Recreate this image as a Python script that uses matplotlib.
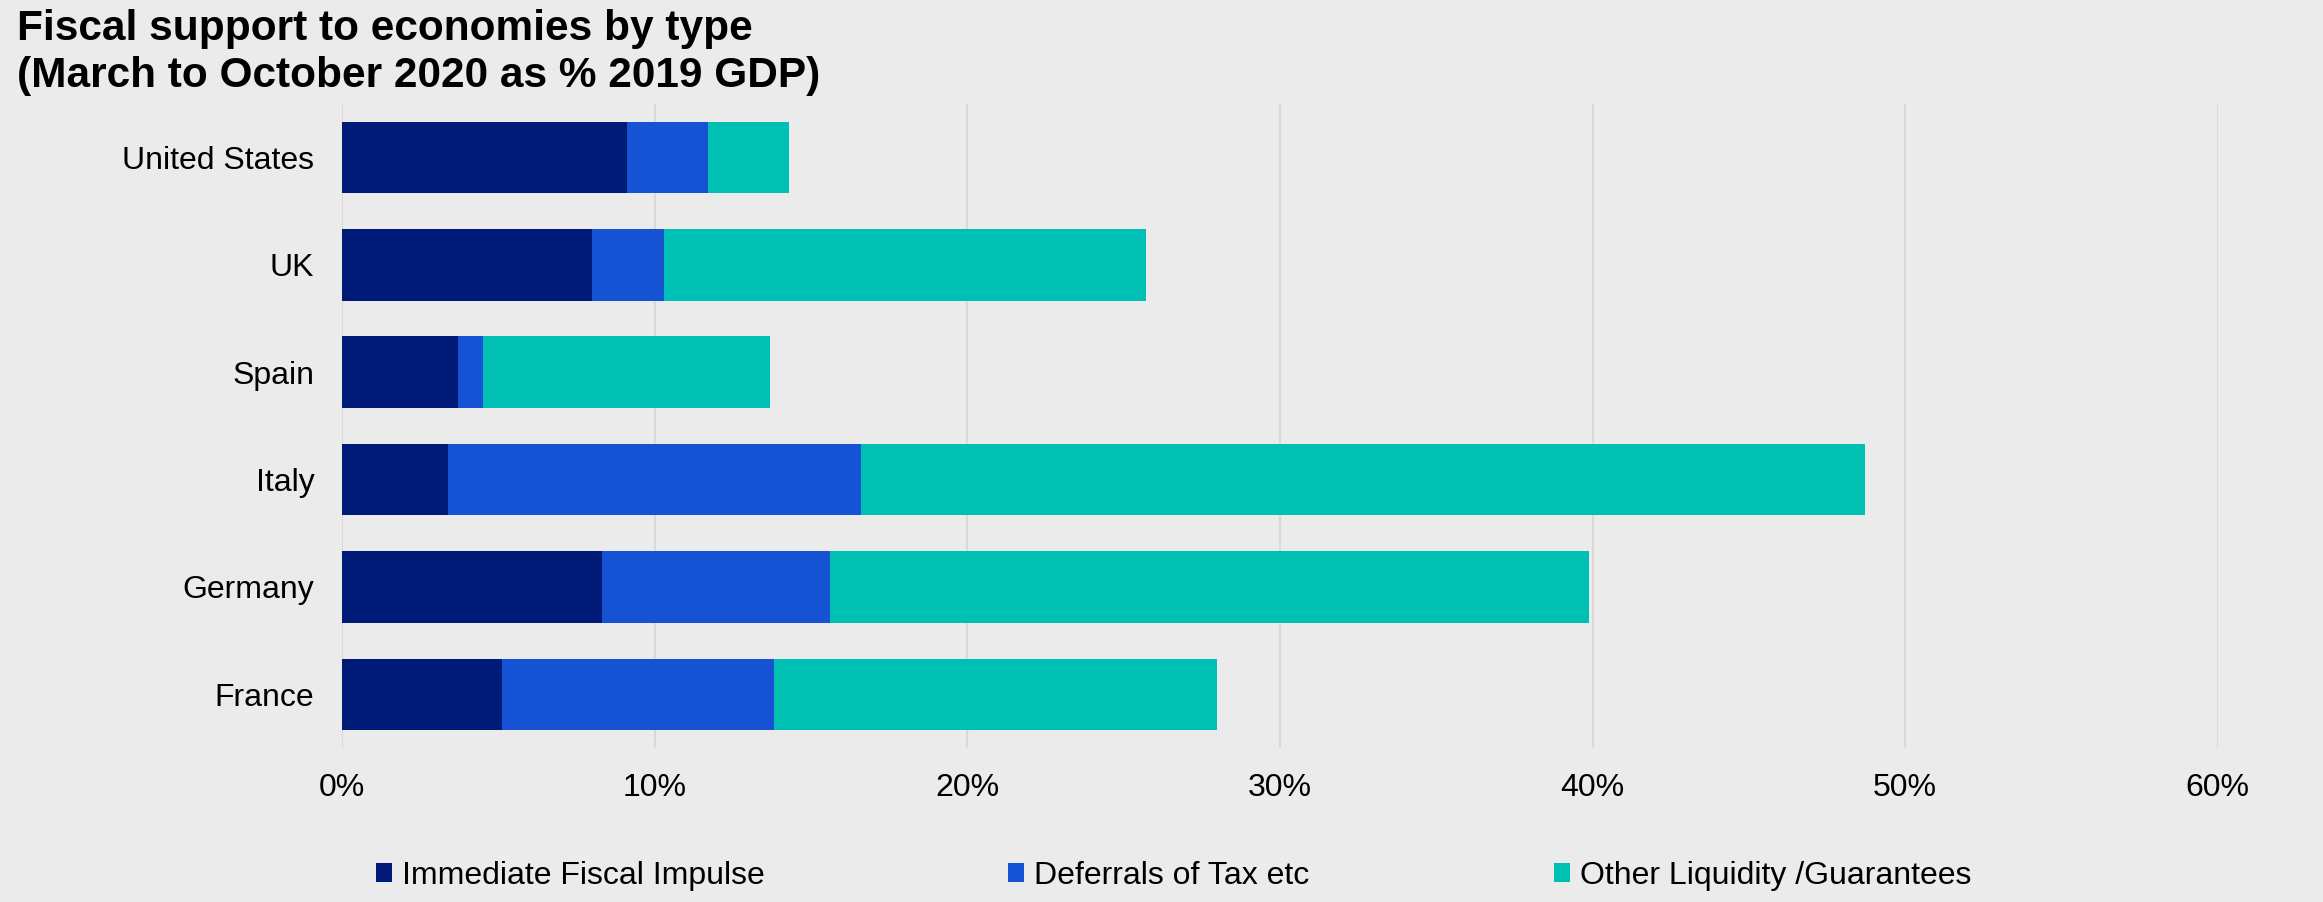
import matplotlib
matplotlib.use("Agg")
import matplotlib.pyplot as plt
from matplotlib.ticker import PercentFormatter
from matplotlib.patches import Patch

countries = ["United States", "UK", "Spain", "Italy", "Germany", "France"]
immediate = [9.1, 8.0, 3.7, 3.4, 8.3, 5.1]
deferrals = [2.6, 2.3, 0.8, 13.2, 7.3, 8.7]
other = [2.6, 15.4, 9.2, 32.1, 24.3, 14.2]
series_names = ["Immediate Fiscal Impulse", "Deferrals of Tax etc", "Other Liquidity /Guarantees"]
colors = ["#001A78", "#1652D4", "#00C0B4"]
xticks = [0, 10, 20, 30, 40, 50, 60]

plt.rcParams['font.family'] = ['Liberation Sans', 'DejaVu Sans']
bg = "#EBEBEB"
fig = plt.figure(figsize=(23.23, 9.02), dpi=100, facecolor=bg)
ax = fig.add_axes([0.1473, 0.1707, 0.8074, 0.7143], facecolor=bg)

y = list(range(len(countries)))
left = [0.0] * len(countries)
for vals, c in zip([immediate, deferrals, other], colors):
    ax.barh(y, vals, left=left, height=0.667, color=c, zorder=3)
    left = [l + v for l, v in zip(left, vals)]

ax.set_ylim(len(countries) - 0.5, -0.5)
ax.set_xlim(0, 60)
ax.set_xticks(xticks)
ax.xaxis.set_major_formatter(PercentFormatter(decimals=0))
ax.set_yticks(y)
ax.set_yticklabels(countries)
ax.grid(axis='x', color='#D9D9D9', linewidth=1.5, zorder=0)
for s in ax.spines.values():
    s.set_visible(False)
ax.tick_params(axis='both', length=0, labelsize=23, colors='black')
ax.tick_params(axis='x', pad=18)
ax.tick_params(axis='y', pad=20)

fig.text(0.0073, 0.99, "Fiscal support to economies by type\n(March to October 2020 as % 2019 GDP)",
         fontsize=30.5, fontweight='bold', va='top', ha='left', linespacing=1.23)

legend_x = [0.162, 0.434, 0.669]
for name, c, lx in zip(series_names, colors, legend_x):
    h = Patch(facecolor=c, edgecolor='none')
    fig.legend([h], [name], loc='center left', bbox_to_anchor=(lx, 0.029),
               frameon=False, fontsize=23, handlelength=0.5, handleheight=0.5,
               handletextpad=0.3, borderaxespad=0, borderpad=0)

fig.savefig("out.png", dpi=100, facecolor=bg)
